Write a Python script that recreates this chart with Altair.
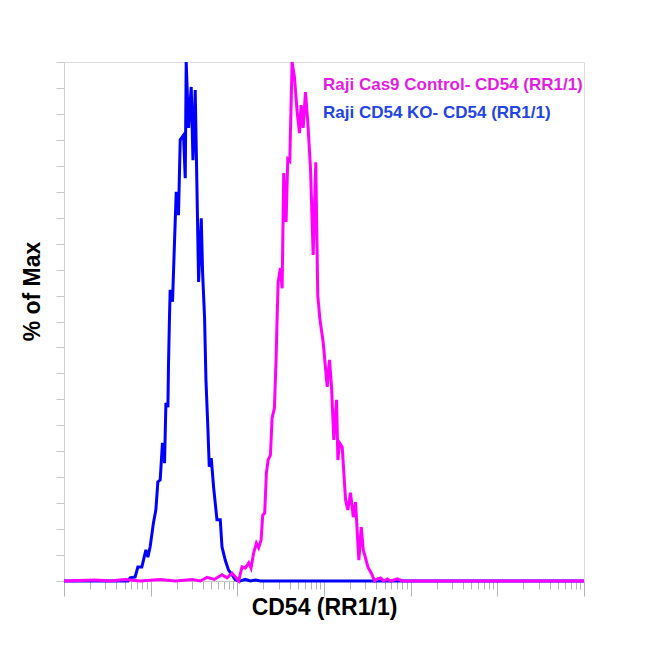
import altair as alt
import pandas as pd

# Series names
CONTROL = "Raji Cas9 Control- CD54 (RR1/1)"
KO = "Raji CD54 KO- CD54 (RR1/1)"

# log10 of CD54 (RR1/1) intensity, and % of Max
ko_log = [0.0, 0.740, 0.763, 0.821, 0.852, 0.898, 0.945, 0.968, 0.994, 1.032, 1.060, 1.083,
          1.110, 1.136, 1.160, 1.176, 1.199, 1.206, 1.217, 1.225, 1.252, 1.283, 1.295, 1.321,
          1.341, 1.379, 1.399, 1.410, 1.437, 1.468, 1.488, 1.514, 1.534, 1.553, 1.584, 1.599,
          1.622, 1.638, 1.661, 1.676, 1.699, 1.726, 1.765, 1.803, 1.823, 1.861, 1.899, 1.939,
          1.977, 2.035, 2.092, 2.150, 2.208, 2.266, 6.0]
ko_pct = [0.0, 0.0, 0.6, 0.8, 2.7, 2.7, 6.0, 4.6, 6.6, 11.2, 13.7, 19.1,
          19.5, 26.6, 22.7, 34.3, 33.5, 42.0, 50.7, 56.1, 53.8, 69.2, 75.0, 70.5,
          85.0, 85.9, 77.6, 100.0, 87.3, 95.2, 81.1, 94.6, 75.7, 57.6, 69.9, 59.5,
          50.7, 38.7, 29.1, 22.0, 23.7, 18.1, 11.8, 11.8, 6.6, 4.0, 2.1, 1.2,
          0.2, 0.0, 0.3, 0.0, 0.2, 0.0, 0.0]

ctrl_log = [0.0, 0.358, 0.532, 0.705, 0.879, 1.110, 1.283, 1.480, 1.572, 1.650, 1.734, 1.823,
            1.881, 1.939, 1.977, 2.015, 2.054, 2.092, 2.131, 2.158, 2.188, 2.220, 2.246, 2.274,
            2.293, 2.316, 2.335, 2.355, 2.382, 2.401, 2.428, 2.447, 2.459, 2.471, 2.497, 2.517,
            2.535, 2.563, 2.582, 2.605, 2.632, 2.659, 2.690, 2.717, 2.736, 2.760, 2.786, 2.813,
            2.844, 2.875, 2.905, 2.928, 2.951, 2.991, 3.037, 3.064, 3.087, 3.113, 3.145, 3.160,
            3.179, 3.210, 3.249, 3.275, 3.306, 3.338, 3.364, 3.402, 3.430, 3.453, 3.480, 3.506,
            3.546, 3.584, 3.618, 3.653, 3.691, 3.731, 3.769, 3.846, 3.904, 6.0]
ctrl_pct = [0.0, 0.2, 0.0, 0.3, 0.0, 0.3, 0.0, 0.3, 0.0, 0.7, 0.3, 1.2,
            0.6, 1.5, 0.8, 0.0, 2.7, 2.5, 3.5, 2.5, 5.4, 7.3, 6.4, 7.9,
            12.7, 13.1, 20.8, 23.3, 24.3, 31.4, 33.3, 42.6, 50.7, 57.6, 60.3, 56.4,
            78.6, 69.2, 81.3, 80.9, 100.0, 97.1, 90.4, 86.3, 91.7, 87.3, 94.2, 88.4,
            79.6, 62.8, 80.7, 55.1, 50.7, 45.9, 37.4, 42.6, 37.4, 27.2, 34.9, 23.3,
            26.6, 25.8, 15.6, 13.7, 17.0, 12.3, 15.2, 4.0, 10.4, 6.0, 4.4, 2.7,
            1.5, 0.0, 0.4, 0.6, 0.0, 0.4, 0.0, 0.4, 0.0, 0.0]

series_names = [CONTROL, KO]
series_colors = ["#ff00ff", "#0000ff"]
major_ticks = [1, 10, 100, 1000, 10000, 100000, 1000000]
all_ticks = [m * 10 ** k for k in range(6) for m in range(1, 10)] + [1000000]

ko_df = pd.DataFrame({"v": [10 ** x for x in ko_log], "pct": ko_pct, "series": KO, "o": range(len(ko_log))})
ctrl_df = pd.DataFrame({"v": [10 ** x for x in ctrl_log], "pct": ctrl_pct, "series": CONTROL, "o": range(len(ctrl_log))})

FONT = "Liberation Sans"

x_enc = alt.X(
    "v:Q",
    scale=alt.Scale(type="log", domain=[1, 1000000], nice=False),
    axis=alt.Axis(
        values=all_ticks,
        labels=False,
        grid=False,
        title="CD54 (RR1/1)",
        titleFont=FONT,
        titleFontSize=23,
        titleFontWeight="bold",
        titleColor="#000000",
        titleBaseline="alphabetic",
        titleY=33,
        tickColor="#b4b4b4",
        domainColor="#c8c8c8",
        tickSize={"condition": {"test": "indexof([1,10,100,1000,10000,100000,1000000], datum.value) >= 0", "value": 15}, "value": 8},
    ),
)
y_enc = alt.Y(
    "pct:Q",
    scale=alt.Scale(domain=[0, 100], nice=False),
    axis=alt.Axis(
        values=list(range(0, 101, 5)),
        labels=False,
        grid=False,
        title="% of Max",
        titleFont=FONT,
        titleFontSize=23,
        titleFontWeight="bold",
        titleColor="#000000",
        titleBaseline="alphabetic",
        titleX=-25,
        titleY=229,
        tickColor="#c8c8c8",
        tickSize=8,
        domainColor="#d0d0d0",
    ),
)
color_enc = alt.Color(
    "series:N",
    scale=alt.Scale(domain=series_names, range=series_colors),
    legend=alt.Legend(
        title=None,
        orient="none",
        legendX=242,
        legendY=14,
        symbolOpacity=0,
        symbolSize=0,
        symbolStrokeWidth=0,
        labelOffset=0,
        labelFont=FONT,
        labelFontSize=17,
        labelFontWeight="bold",
        labelLimit=400,
        rowPadding=10,
        padding=0,
        labelColor={"expr": f"datum.value == '{CONTROL}' ? '#e21ee2' : '#2444e4'"},
    ),
)

ko_line = alt.Chart(ko_df).mark_line(strokeWidth=3).encode(x=x_enc, y=y_enc, color=color_enc, order="o:Q")
ctrl_line = alt.Chart(ctrl_df).mark_line(strokeWidth=3).encode(x=x_enc, y=y_enc, color=color_enc, order="o:Q")

chart = (
    alt.layer(ko_line, ctrl_line)
    .properties(
        width=520,
        height=519,
        padding={"left": 56, "top": 54, "right": 50, "bottom": 60},
        autosize=alt.AutoSizeParams(type="none"),
        background="#ffffff",
    )
    .configure_view(stroke="#dcdcdc", strokeWidth=1)
)

chart.save("out.html", embed_options={"renderer": "svg", "actions": False})
